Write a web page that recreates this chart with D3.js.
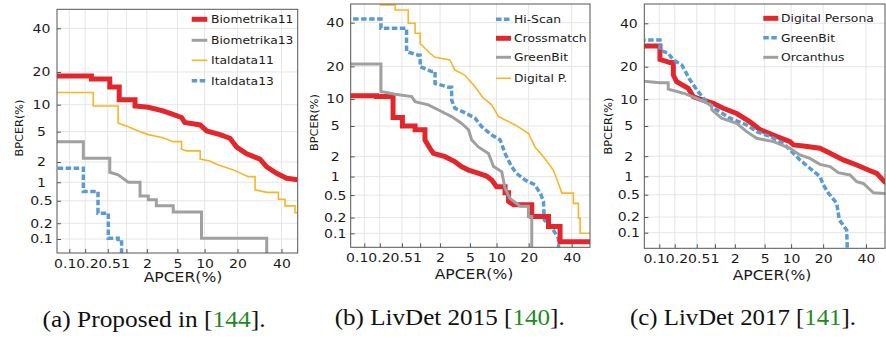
<!DOCTYPE html>
<html><head><meta charset="utf-8">
<script src="https://cdn.jsdelivr.net/npm/d3@7"></script>
<style>
html,body{margin:0;padding:0;background:#fff;}
svg{display:block;}
</style></head>
<body>
<svg id="chart" width="886" height="340"></svg>
<script>
// ---------------- DATA (percent values: [APCER, BPCER]) ----------------
const tickValues = [0.1, 0.2, 0.5, 1, 2, 5, 10, 20, 40];
const tickLabels = ["0.1", "0.2", "0.5", "1", "2", "5", "10", "20", "40"];

// (a) Proposed in [144]
const seriesA = ["Biometrika11", "Biometrika13", "Italdata11", "Italdata13"];
const biometrika11 = [[0.04,18.5],[0.26,18.5],[0.26,17.5],[0.54,17.5],[0.54,14.8],[0.77,14.8],[0.77,11.2],[1.35,11.2],[1.35,9.7],[2.1,9.4],[3.3,8.6],[4.25,8.0],[5.6,7.3],[6.1,6.4],[9.0,6.0],[10.5,5.1],[14.1,4.6],[17.3,4.15],[19.7,3.2],[23.6,2.6],[29.4,2.2],[32.6,1.7],[37.5,1.37],[42.7,1.15],[48.5,1.09]];
const biometrika13 = [[0.04,3.76],[0.185,3.76],[0.185,2.26],[0.54,2.26],[0.54,1.42],[0.74,1.3],[1.07,1.0],[1.6,1.0],[1.6,0.6],[2.1,0.6],[2.1,0.52],[2.7,0.52],[2.7,0.41],[4.45,0.41],[4.45,0.32],[9.3,0.32],[9.3,0.104],[32.6,0.104],[32.6,0.01]];
const italdata11 = [[0.04,13.2],[0.28,13.2],[0.28,9.7],[0.74,9.7],[0.74,6.3],[1.07,5.7],[1.5,5.1],[2.1,4.6],[3.3,4.2],[4.45,3.76],[5.6,3.76],[5.6,3.0],[6.4,2.85],[9.0,2.85],[9.0,2.2],[11.3,2.07],[13.1,1.86],[18.5,1.54],[24.3,1.22],[27.2,1.22],[27.2,0.76],[32.6,0.69],[38.4,0.69],[38.4,0.53],[41.8,0.53],[41.8,0.41],[47.1,0.41],[47.1,0.31],[55,0.31]];
const italdata13 = [[0.04,1.63],[0.185,1.63],[0.185,0.71],[0.34,0.71],[0.34,0.305],[0.51,0.305],[0.51,0.104],[0.74,0.104],[0.74,0.087],[0.84,0.087],[0.84,0.01]];

// (b) LivDet 2015 [140]
const seriesB = ["Hi-Scan", "Crossmatch", "GreenBit", "Digital P."];
const hiScan = [[0.04,41.9],[0.21,41.9],[0.21,37.1],[0.60,37.1],[0.60,26],[0.94,24.5],[1.0,24.5],[1.0,19.9],[1.5,18.1],[1.69,18.1],[1.69,14.2],[2.6,13.1],[2.9,13.1],[2.9,9.8],[3.2,8.0],[4.3,7.15],[5.75,6.2],[6.9,4.9],[8.9,3.87],[10.9,3.34],[12.2,2.2],[14.1,1.42],[15.7,1.12],[18.7,0.88],[22.5,0.74],[25.1,0.50],[26.1,0.39],[26.5,0.18],[30.7,0.116],[33.2,0.079],[33.5,0.01]];
const crossmatch = [[0.04,10.8],[0.174,10.8],[0.174,10.6],[0.35,10.6],[0.35,6.3],[0.51,6.3],[0.51,5.0],[0.83,5.0],[0.83,4.5],[1.19,4.5],[1.19,3.34],[1.42,2.58],[1.6,2.2],[2.35,1.98],[3.2,1.68],[3.9,1.42],[4.8,1.26],[6.0,1.15],[7.8,1.02],[8.9,0.88],[10.0,0.69],[12.2,0.69],[12.2,0.55],[13.2,0.55],[13.2,0.39],[14.7,0.34],[21.2,0.34],[21.2,0.21],[28.4,0.21],[28.4,0.135],[34.0,0.135],[34.0,0.068],[55,0.068]];
const greenBit15 = [[0.04,20.9],[0.21,20.9],[0.21,11.9],[0.38,11.2],[0.73,10.6],[0.83,9.4],[1.34,8.7],[1.9,7.65],[2.9,6.45],[3.9,5.4],[4.8,4.5],[5.25,3.34],[6.3,2.7],[8.2,2.2],[9.3,1.42],[11.3,1.19],[12.2,0.65],[13.6,0.44],[16.9,0.32],[19.9,0.32],[19.9,0.21],[21.2,0.21],[21.2,0.01]];
const digitalP = [[0.21,55],[0.21,49.4],[0.38,49.4],[0.38,46.7],[0.64,46.7],[0.64,39.7],[0.83,39.7],[0.83,34.6],[1.0,34.6],[1.0,29.7],[1.42,25.3],[1.69,23.6],[2.75,22.5],[3.2,18.7],[4.3,16.9],[5.75,13.2],[7.2,10.2],[8.9,8.7],[10.5,6.45],[15.2,5.15],[19.9,4.07],[22.5,2.7],[25.4,2.1],[30.7,1.26],[33.2,0.78],[34.9,0.54],[40.9,0.54],[40.9,0.36],[43.6,0.36],[43.6,0.194],[44.5,0.194],[44.5,0.1],[55,0.1]];

// (c) LivDet 2017 [141]
const seriesC = ["Digital Persona", "GreenBit", "Orcanthus"];
const digitalPersona = [[0.04,28.8],[0.103,28.8],[0.103,22.9],[0.162,21.6],[0.188,21.6],[0.188,17.0],[0.217,14.8],[0.355,12.8],[0.436,10.6],[0.57,10.0],[0.94,9.05],[1.35,8.0],[2.13,7.0],[3.25,5.6],[4.4,4.5],[7.0,3.7],[9.75,3.17],[10.6,2.86],[13.3,2.77],[18.8,2.58],[22.8,2.2],[28.6,1.77],[35.2,1.49],[41.3,1.25],[45.8,1.11],[50,0.82],[55,0.7]];
const greenBit17 = [[0.04,31.6],[0.103,31.6],[0.103,26.9],[0.15,25.5],[0.188,22.7],[0.27,20.7],[0.38,15.4],[0.50,12.4],[0.73,9.4],[1.06,7.7],[1.7,6.2],[2.93,5.15],[3.97,4.26],[5.8,3.7],[8.25,3.0],[9.75,2.44],[12.3,1.77],[15.3,1.33],[18.8,0.99],[20.1,0.73],[22.1,0.53],[25.6,0.355],[26.8,0.176],[30.2,0.113],[31.0,0.01]];
const orcanthus = [[0.04,15.1],[0.103,14.5],[0.15,14.5],[0.15,12.6],[0.29,11.5],[0.50,10.2],[0.89,8.6],[0.89,7.7],[1.27,6.2],[2.13,5.4],[2.93,4.26],[3.97,3.5],[6.4,3.17],[9.75,2.58],[12.3,2.08],[15.3,1.86],[18.8,1.52],[22.8,1.41],[26.3,1.14],[31.8,1.05],[35.2,0.82],[38.6,0.77],[44.0,0.54],[55,0.51]];

const captions = [
  ["(a) Proposed in [", "144", "]."],
  ["(b) LivDet 2015 [", "140", "]."],
  ["(c) LivDet 2017 [", "141", "]."]
];

// ---------------- STYLES ----------------
const RED = "#e3262c", GRAY = "#a0a0a0", YELLOW = "#fbb424", BLUE = "#5b9bd5";
const styleRed = {color: RED, width: 5, dash: null};
const styleGray = {color: GRAY, width: 3, dash: null};
const styleYellow = {color: YELLOW, width: 1.6, dash: null};
const styleBlue = {color: BLUE, width: 3.5, dash: "5.5,2.5"};
const STRETCH = 1.14;   // text in the reference is slightly wider than tall

// probit (inverse normal CDF), Acklam
function probit(p) {
  const a=[-3.969683028665376e+01,2.209460984245205e+02,-2.759285104469687e+02,1.383577518672690e+02,-3.066479806614716e+01,2.506628277459239e+00];
  const b=[-5.447609879822406e+01,1.615858368580409e+02,-1.556989798598866e+02,6.680131188771972e+01,-1.328068155288572e+01];
  const c=[-7.784894002430293e-03,-3.223964580411365e-01,-2.400758277161838e+00,-2.549732539343734e+00,4.374664141464968e+00,2.938163982698783e+00];
  const d=[7.784695709041462e-03,3.224671290700398e-01,2.445134137142996e+00,3.754408661907416e+00];
  const pl=0.02425, ph=1-pl;
  if (p < pl) { const q=Math.sqrt(-2*Math.log(p)); return (((((c[0]*q+c[1])*q+c[2])*q+c[3])*q+c[4])*q+c[5])/((((d[0]*q+d[1])*q+d[2])*q+d[3])*q+1); }
  if (p <= ph) { const q=p-0.5, r=q*q; return (((((a[0]*r+a[1])*r+a[2])*r+a[3])*r+a[4])*r+a[5])*q/(((((b[0]*r+b[1])*r+b[2])*r+b[3])*r+b[4])*r+1); }
  const q=Math.sqrt(-2*Math.log(1-p)); return -(((((c[0]*q+c[1])*q+c[2])*q+c[3])*q+c[4])*q+c[5])/((((d[0]*q+d[1])*q+d[2])*q+d[3])*q+1);
}

// probit-percent scale usable by d3.axis
function probitScale(v0, px0, v1, px1, pxRange) {
  const lin = d3.scaleLinear().domain([probit(v0/100), probit(v1/100)]).range([px0, px1]);
  const s = v => lin(probit(v/100));
  s.domain = () => [v0, v1];
  s.range = () => pxRange;
  s.copy = () => s;
  return s;
}

function stretch(sel, k) {
  sel.each(function() {
    const w = this.getComputedTextLength();
    d3.select(this).attr("textLength", w * k).attr("lengthAdjust", "spacingAndGlyphs");
  });
}

const panels = [
  {frame:{l:57,t:9.3,r:297.7,b:253}, x:[69.3,281.5], y:[28.3,239],
   names: seriesA, data:[biometrika11, biometrika13, italdata11, italdata13],
   styles:[styleRed, styleGray, styleYellow, styleBlue],
   legend:{x0:191.7, x1:207.3, tx:211, ys:[19.3,40.3,60.3,80.7]},
   xgroup:53.5,
   xlab:{x:183, y:282}, ylab:{x:19.5, y:128}, cap:{x:154, y:327, w:223}},
  {frame:{l:350.7,t:4,r:590,b:247.3}, x:[364.3,571.7], y:[22.7,233.3],
   names: seriesB, data:[hiScan, crossmatch, greenBit15, digitalP],
   styles:[styleBlue, styleRed, styleGray, styleYellow],
   legend:{x0:496, x1:511, tx:514, ys:[19.3,38.3,57.3,78.3]},
   xgroup:345.5,
   xlab:{x:474, y:279}, ylab:{x:313.7, y:122.5}, cap:{x:449.7, y:324.5, w:230}},
  {frame:{l:644.3,t:4,r:885,b:248.3}, x:[659.3,866], y:[23.3,232.7],
   names: seriesC, data:[digitalPersona, greenBit17, orcanthus],
   styles:[styleRed, styleBlue, styleGray],
   legend:{x0:763.3, x1:778.3, tx:781, ys:[18.3,37.7,57.3]},
   xgroup:643,
   xlab:{x:772, y:280}, ylab:{x:608.3, y:126}, cap:{x:743, y:324.5, w:226}}
];

const svg = d3.select("#chart");
const TICKFONT = 12.3;

panels.forEach((P, i) => {
  const f = P.frame;
  const xs = probitScale(0.1, P.x[0], 40, P.x[1], [f.l, f.r]);
  const ys = probitScale(40, P.y[0], 0.1, P.y[1], [f.b, f.t]);
  const g = svg.append("g");

  // grid
  g.append("g").selectAll("line").data(tickValues).join("line")
    .attr("x1", d => xs(d)).attr("x2", d => xs(d)).attr("y1", f.t).attr("y2", f.b)
    .attr("stroke", "#e6e6e6").attr("stroke-width", 1);
  g.append("g").selectAll("line").data(tickValues).join("line")
    .attr("y1", d => ys(d)).attr("y2", d => ys(d)).attr("x1", f.l).attr("x2", f.r)
    .attr("stroke", "#e6e6e6").attr("stroke-width", 1);

  // clip
  const cid = "clip" + i;
  svg.append("clipPath").attr("id", cid).append("rect")
    .attr("x", f.l).attr("y", f.t).attr("width", f.r - f.l).attr("height", f.b - f.t);

  const line = d3.line().x(d => xs(d[0])).y(d => ys(d[1])).curve(d3.curveLinear);
  const cg = g.append("g").attr("clip-path", `url(#${cid})`);
  P.data.forEach((ser, k) => {
    const st = P.styles[k];
    cg.append("path").datum(ser).attr("d", line)
      .attr("fill", "none").attr("stroke", st.color).attr("stroke-width", st.width)
      .attr("stroke-dasharray", st.dash).attr("stroke-linejoin", "miter");
  });

  // x axis
  const ax = d3.axisBottom(xs).tickValues(tickValues).tickFormat((d, j) => tickLabels[j])
    .tickSizeInner(-4).tickSizeOuter(0).tickPadding(6);
  const axg = g.append("g").attr("transform", `translate(0,${f.b})`).call(ax);
  axg.select(".domain").remove();
  axg.selectAll("line").attr("stroke", "#555");
  axg.selectAll("text").attr("font-family", "DejaVu Sans").attr("font-size", TICKFONT).attr("fill", "#1a1a1a");
  stretch(axg.selectAll("text"), STRETCH);
  // crowded small labels sit side by side (as in the reference)
  let cursor = P.xgroup;
  axg.selectAll(".tick").each(function(d, j) {
    if (j > 3) return;
    const t = d3.select(this).select("text");
    const w = +t.attr("textLength");
    t.attr("x", cursor + w / 2 - xs(d));
    cursor += w;
  });

  // y axis
  const ay = d3.axisLeft(ys).tickValues(tickValues).tickFormat((d, j) => tickLabels[j])
    .tickSizeInner(-4).tickSizeOuter(0).tickPadding(0);
  const ayg = g.append("g").attr("transform", `translate(${f.l},0)`).call(ay);
  ayg.select(".domain").remove();
  ayg.selectAll("line").attr("stroke", "#555");
  ayg.selectAll("text").attr("font-family", "DejaVu Sans").attr("font-size", TICKFONT)
    .attr("fill", "#1a1a1a").attr("text-anchor", "middle").attr("x", -15.5);
  stretch(ayg.selectAll("text"), STRETCH);

  // frame
  g.append("rect").attr("x", f.l).attr("y", f.t).attr("width", f.r - f.l).attr("height", f.b - f.t)
    .attr("fill", "none").attr("stroke", "#555").attr("stroke-width", 1);

  // axis labels
  const xl = g.append("text").attr("x", P.xlab.x).attr("y", P.xlab.y).attr("text-anchor", "middle")
    .attr("font-family", "DejaVu Sans").attr("font-size", 13.7).attr("fill", "#1a1a1a").text("APCER(%)");
  stretch(xl, STRETCH);
  g.append("text").attr("transform", `translate(${P.ylab.x},${P.ylab.y}) rotate(-90)`)
    .attr("text-anchor", "middle").attr("dy", "0.35em")
    .attr("font-family", "DejaVu Sans").attr("font-size", 11.3).attr("fill", "#1a1a1a").text("BPCER(%)");

  // legend
  const L = P.legend;
  P.names.forEach((nm, k) => {
    const st = P.styles[k];
    g.append("line").attr("x1", L.x0).attr("x2", L.x1).attr("y1", L.ys[k]).attr("y2", L.ys[k])
      .attr("stroke", st.color).attr("stroke-width", st.width).attr("stroke-dasharray", st.dash);
    const lt = g.append("text").attr("x", L.tx).attr("y", L.ys[k]).attr("dy", "0.35em")
      .attr("font-family", "DejaVu Sans").attr("font-size", 11.2).attr("fill", "#1a1a1a").text(nm);
    stretch(lt, 1.1);
  });

  // caption
  const cap = captions[i];
  const t = svg.append("text").attr("x", P.cap.x).attr("y", P.cap.y).attr("text-anchor", "middle")
    .attr("font-family", "Liberation Serif").attr("font-size", 22.5).attr("fill", "#111")
    .attr("textLength", P.cap.w).attr("lengthAdjust", "spacingAndGlyphs");
  t.append("tspan").text(cap[0]);
  t.append("tspan").attr("fill", "#1f8a1f").text(cap[1]);
  t.append("tspan").text(cap[2]);
});
</script>
</body></html>
